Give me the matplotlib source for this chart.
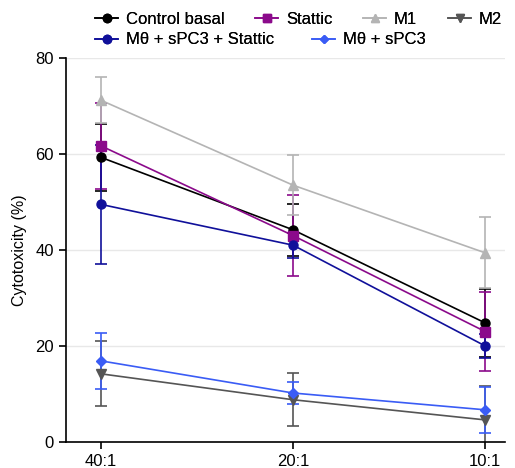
import matplotlib.pyplot as plt
from matplotlib.lines import Line2D

plt.rcParams['font.family'] = ['Liberation Sans', 'DejaVu Sans']

# Данные
ratios = ["40:1", "20:1", "10:1"]
control = [59.3, 44.2, 24.8]
control_err = [7.0, 5.4, 7.0]
stattic = [61.7, 43.0, 23.0]
stattic_err = [9.0, 8.5, 8.3]
m1 = [71.2, 53.5, 39.4]
m1_err = [4.8, 6.3, 7.4]
m2 = [14.2, 8.8, 4.6]
m2_err = [6.8, 5.5, 7.0]
mth_spc3_stattic = [49.5, 41.0, 20.0]
mth_spc3_stattic_err = [12.4, 2.6, 2.5]
mth_spc3 = [16.9, 10.2, 6.7]
mth_spc3_err = [5.9, 2.2, 4.8]

x = list(range(len(ratios)))

fig = plt.figure(figsize=(5.15, 4.68), dpi=100)
ax = fig.add_axes([0.128, 0.0556, 0.853, 0.8205])

series = [
    ("Control basal", control, control_err, "black", "o", 6.5),
    ("Stattic", stattic, stattic_err, "#8b0a8b", "s", 6.5),
    ("M1", m1, m1_err, "#b4b4b4", "^", 6.5),
    ("M2", m2, m2_err, "#555555", "v", 6.5),
    ("Mθ + sPC3 + Stattic", mth_spc3_stattic, mth_spc3_stattic_err, "#10109a", "o", 6.5),
    ("Mθ + sPC3", mth_spc3, mth_spc3_err, "#3a5cf5", "D", 5),
]

handles = {}
for name, vals, err, col, mk, ms in series:
    ax.errorbar(x, vals, yerr=err, color=col, marker=mk, markersize=ms,
                linewidth=1.2, elinewidth=1.2, capsize=4, capthick=1.2)
    handles[name] = Line2D([], [], color=col, marker=mk, markersize=ms - 0.5,
                           linewidth=1.2)

ax.set_xlim(-0.182, 2.104)
ax.set_ylim(0, 80)
ax.set_yticks([0, 20, 40, 60, 80])
ax.set_xticks(x)
ax.set_xticklabels(ratios)
ax.tick_params(labelsize=12, direction="out", length=5, width=1.2)
ax.set_ylabel("Cytotoxicity (%)", fontsize=11.5, labelpad=6)
ax.yaxis.grid(True, color="#e8e8e8", linewidth=1)
ax.set_axisbelow(True)
for s in ["top", "right"]:
    ax.spines[s].set_visible(False)
for s in ["left", "bottom"]:
    ax.spines[s].set_linewidth(1.2)

# Легенда: каждая запись на своём месте
legend_pos = {
    "Control basal": (95, 19),
    "Stattic": (255, 19),
    "M1": (363, 19),
    "M2": (448, 19),
    "Mθ + sPC3 + Stattic": (95, 40),
    "Mθ + sPC3": (312, 40),
}
for name, (px, py) in legend_pos.items():
    leg = fig.legend([handles[name]], [name], loc="center left",
                     bbox_to_anchor=(px / 515, 1 - py / 468), frameon=False,
                     fontsize=12, handlelength=1.4, handletextpad=0.45,
                     borderpad=0, borderaxespad=0)
    fig.add_artist(leg)

plt.savefig("out.png")
